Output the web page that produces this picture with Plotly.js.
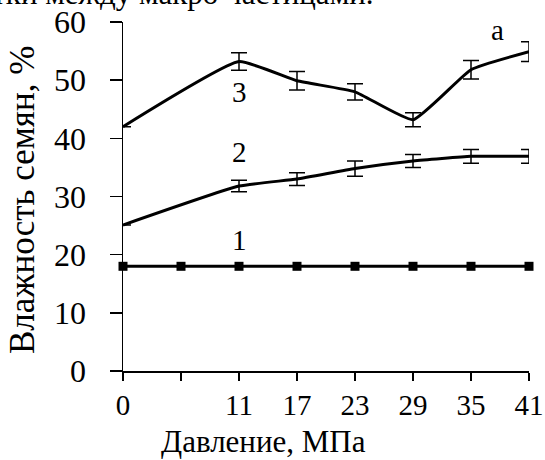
<!DOCTYPE html>
<html>
<head>
<meta charset="utf-8">
<script src="https://cdn.plot.ly/plotly-3.0.1.min.js"></script>
<style>
html,body{margin:0;padding:0;background:#fff;overflow:hidden;}
#chart{width:545px;height:460px;}
</style>
</head>
<body>
<div id="chart"></div>
<script>
// Pressure categories (MPa); the second category has no label in the source chart
const pressureLabels = ["0", "", "11", "17", "23", "29", "35", "41"];
// Series 1: constant moisture
const series1 = [18, 18, 18, 18, 18, 18, 18, 18];
// Series 2
const series2 = [25.1, null, 31.8, 33.0, 34.8, 36.1, 36.9, 36.9];
const series2Err = [0, 0, 1.0, 1.1, 1.3, 1.1, 1.2, 1.2];
// Series 3
const series3 = [42.0, null, 53.2, 49.9, 48.0, 43.2, 51.8, 54.9];
const series3Err = [0, 0, 1.5, 1.6, 1.4, 1.2, 1.6, 1.7];
// Curve labels
const curveLabels = ["1", "2", "3", "a"];

const xPos = pressureLabels.map((_, i) => i);
const FONT = "Liberation Serif, Times New Roman, serif";

function errArr(vals, errs){ return errs.map((e, i) => vals[i] === null ? null : e); }

const traces = [
  {
    x: xPos, y: series1, type: "scatter", mode: "lines+markers",
    line: {color: "#000", width: 3},
    marker: {symbol: "square", size: 9, color: "#000"},
    cliponaxis: false, showlegend: false
  },
  {
    x: xPos, y: series2, type: "scatter", mode: "lines",
    connectgaps: true,
    line: {color: "#000", width: 3, shape: "spline", smoothing: 0.4},
    error_y: {type: "data", array: errArr(series2, series2Err), visible: true, color: "#000", thickness: 1.5, width: 8},
    cliponaxis: false, showlegend: false
  },
  {
    x: xPos, y: series3, type: "scatter", mode: "lines",
    connectgaps: true,
    line: {color: "#000", width: 3, shape: "spline", smoothing: 0.4},
    error_y: {type: "data", array: errArr(series3, series3Err), visible: true, color: "#000", thickness: 1.5, width: 8},
    cliponaxis: false, showlegend: false
  }
];

const labelFont = {family: FONT, size: 29, color: "#000"};

const layout = {
  width: 545, height: 460,
  margin: {l: 123, r: 16, t: 22, b: 89},
  paper_bgcolor: "#fff", plot_bgcolor: "#fff",
  font: {family: FONT, color: "#000", size: 24},
  showlegend: false,
  xaxis: {
    range: [0, 7],
    tickmode: "array",
    tickvals: xPos,
    ticktext: pressureLabels,
    ticks: "outside", ticklen: 8, tickwidth: 1.5, tickcolor: "#000",
    showline: true, linecolor: "#000", linewidth: 1.5,
    showgrid: false, zeroline: false,
    tickfont: {family: FONT, size: 29, color: "#000"}
  },
  yaxis: {
    range: [0, 60],
    tickmode: "array",
    tickvals: [0, 10, 20, 30, 40, 50, 60],
    ticks: "outside", ticklen: 12, tickwidth: 1.5, tickcolor: "#000",
    showline: true, linecolor: "#000", linewidth: 1.5,
    showgrid: false, zeroline: false,
    ticklabelstandoff: 17,
    tickfont: {family: FONT, size: 32, color: "#000"}
  },
  annotations: [
    {xref: "x", yref: "y", x: 2, y: 47.9, text: curveLabels[2], showarrow: false, font: labelFont},
    {xref: "x", yref: "y", x: 2, y: 37.6, text: curveLabels[1], showarrow: false, font: labelFont},
    {xref: "x", yref: "y", x: 2, y: 22.5, text: curveLabels[0], showarrow: false, font: labelFont},
    {xref: "x", yref: "y", x: 6.45, y: 58.6, text: curveLabels[3], showarrow: false, font: labelFont},
    {xref: "paper", yref: "paper", x: (263 - 123) / 406, y: -(441 - 371) / 349, text: "Давление, МПа",
     showarrow: false, xanchor: "center", yanchor: "middle", font: {family: FONT, size: 31, color: "#000"}},
    {xref: "paper", yref: "paper", x: (22 - 123) / 406, y: (371 - 200) / 349, text: "Влажность семян, %",
     textangle: -90, showarrow: false, xanchor: "center", yanchor: "middle", font: {family: FONT, size: 35, color: "#000"}},
    {xref: "paper", yref: "paper", x: (376 - 123) / 406, y: (371 - 13) / 349, text: "промежутки между макро частицами.",
     showarrow: false, xanchor: "right", yanchor: "bottom", font: {family: FONT, size: 31, color: "#000"}}
  ]
};

Plotly.newPlot("chart", traces, layout, {staticPlot: true, displayModeBar: false});
</script>
</body>
</html>
